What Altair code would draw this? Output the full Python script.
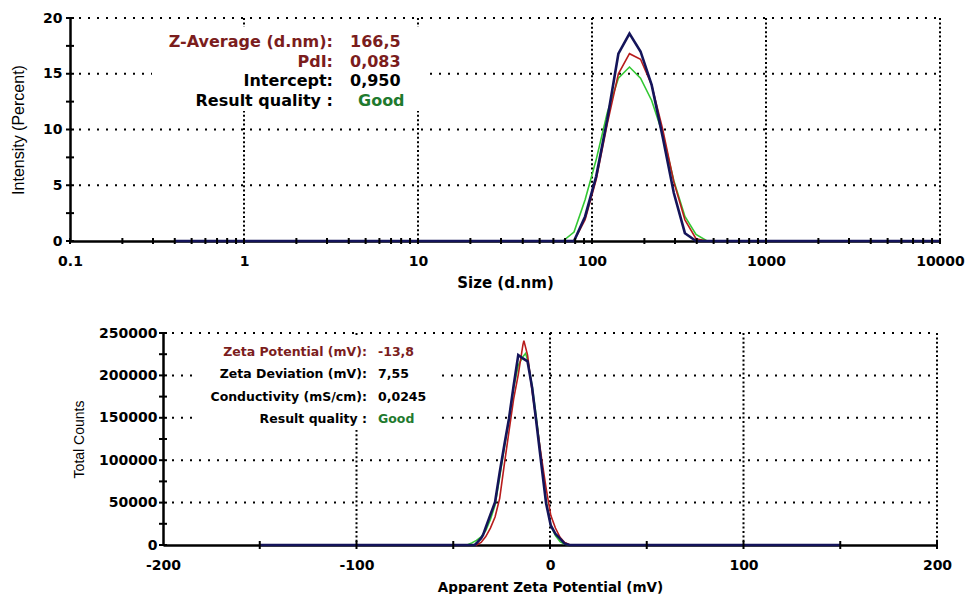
import altair as alt
import pandas as pd

# ---------------- size distribution (intensity) ----------------
size_bins = [0.4, 0.4632, 0.5365, 0.6213, 0.7195, 0.8332, 0.9649, 1.117, 1.294, 1.499,
             1.736, 2.01, 2.328, 2.696, 3.122, 3.615, 4.187, 4.849, 5.615, 6.503,
             7.531, 8.721, 10.1, 11.7, 13.54, 15.69, 18.17, 21.04, 24.36, 28.21,
             32.67, 37.84, 43.82, 50.75, 58.77, 68.06, 78.82, 91.28, 105.7, 122.4,
             141.8, 164.2, 190.1, 220.2, 255.0, 295.3, 342.0, 396.1, 458.7, 531.2,
             615.1, 712.4, 825.0, 955.4, 1106, 1281, 1484, 1718, 1990, 2305,
             2669, 3091, 3580, 4145, 4801, 5560, 6439, 7456, 8635, 10000]

intensity_run1 = [0.0] * 37 + [2.2, 5.8, 10.9, 16.8, 18.6, 17.0, 14.0, 9.3, 4.3, 0.7] + [0.0] * 23
intensity_run2 = [0.0] * 37 + [1.9, 5.5, 10.5, 15.0, 16.8, 16.3, 14.0, 10.0, 5.3, 1.9, 0.2] + [0.0] * 22
intensity_run3 = [0.0] * 36 + [0.8, 3.7, 7.3, 11.5, 14.6, 15.6, 14.6, 12.6, 9.6, 5.4, 2.2, 0.6] + [0.0] * 22

size_ticks = [0.1, 1, 10, 100, 1000, 10000]
size_minor = [m * d for d in [0.1, 1, 10, 100, 1000] for m in range(1, 10)] + [10000]
intensity_ticks = [0, 5, 10, 15, 20]
intensity_minor = [0, 2.5, 5, 7.5, 10, 12.5, 15, 17.5, 20]

size_labels = ["Z-Average (d.nm):", "PdI:", "Intercept:", "Result quality :"]
size_values = ["166,5", "0,083", "0,950", "Good"]

# ---------------- zeta potential distribution ----------------
zeta_run1_mv = [-150, -40.4, -38.9, -38.0, -35.6, -34.6, -33.2, -30.8, -28.4, -26.0, -23.6, -21.2,
                -18.8, -16.4, -14.0, -11.6, -9.2, -6.8, -4.4, -2.0, 0.4, 2.8, 5.2, 7.6, 10.0, 150]
zeta_run1_counts = [0, 0, 0, 2000, 8000, 11800, 20600, 35600, 50600, 85700, 118000, 149000,
                    188000, 224000, 220000, 216500, 185000, 140000, 94000, 49000, 23000, 13200,
                    7400, 1700, 0, 0]

zeta_run2_mv = [-150, -38.0, -35.6, -33.2, -30.8, -28.4, -26.0, -23.6, -21.2, -18.8, -16.4, -14.0,
                -13.5, -11.6, -9.2, -6.8, -4.4, -2.0, 0.4, 2.8, 5.2, 7.6, 10.0, 12.4, 150]
zeta_run2_counts = [0, 0, 3000, 10000, 20000, 33000, 55000, 95000, 134000, 172000, 201000, 236000,
                    241000, 224000, 180600, 142000, 103000, 66700, 35000, 20000, 9000, 3000,
                    500, 0, 0]

zeta_run3_mv = [-150, -42.8, -40.4, -38.0, -35.6, -33.2, -30.8, -28.4, -26.0, -23.6, -21.2, -18.8,
                -16.4, -14.0, -12.6, -11.6, -9.2, -6.8, -4.4, -2.0, 0.4, 2.8, 5.2, 7.6, 10.0, 150]
zeta_run3_counts = [0, 0, 2500, 5500, 9500, 17000, 30000, 47000, 80000, 115000, 148000, 185000,
                    212000, 222000, 226000, 218000, 187000, 146000, 98000, 52000, 23000, 11000,
                    4000, 800, 0, 0]

zeta_ticks = [-200, -100, 0, 100, 200]
zeta_grid = [-100, 0, 100, 200]
zeta_minor = [-150, -100, -50, 0, 50, 100, 150, 200]
counts_ticks = [0, 50000, 100000, 150000, 200000, 250000]
counts_minor = list(range(0, 250001, 25000))

zeta_labels = ["Zeta Potential (mV):", "Zeta Deviation (mV):", "Conductivity (mS/cm):", "Result quality :"]
zeta_values = ["-13,8", "7,55", "0,0245", "Good"]

# ---------------- styling ----------------
NAVY, RED, GREEN = "#14145a", "#b81c1c", "#33c833"
MAROON, OK_GREEN = "#7b1d1d", "#1f7a2e"
label_colors = [MAROON, MAROON, "#000000", "#000000"]
value_colors = [MAROON, MAROON, "#000000", OK_GREEN]
zlabel_colors = [MAROON, "#000000", "#000000", "#000000"]
zvalue_colors = [MAROON, "#000000", "#000000", OK_GREEN]

TICK_FONT = "DejaVu Sans"
W1, H1 = 870, 223
W2, H2 = 870, 212
X2_LEFT, X2_RIGHT = 93, 867


def axis(values, title, label_pad, title_pad, title_font, title_size, title_weight, offset=0):
    return alt.Axis(
        values=values, labelExpr="'' + datum.value", ticks=False, grid=False,
        domainColor="#000000", domainWidth=2.5, labelFont=TICK_FONT, labelFontWeight="bold",
        labelFontSize=14, labelColor="#000000", labelPadding=label_pad, labelFlush=False,
        labelOverlap=False, title=title, titleFont=title_font, titleFontSize=title_size,
        titleFontWeight=title_weight, titleColor="#000000", titlePadding=title_pad, offset=offset)


def values_df(vals):
    return pd.DataFrame({"v": vals})


class Panel:
    """Shared scales and axes for one plot panel."""

    def __init__(self, xscale, yscale, xaxis, yaxis, xtitle, ytitle):
        self.xs, self.ys, self.xa, self.ya = xscale, yscale, xaxis, yaxis
        self.xt, self.yt = xtitle, ytitle

    def X(self, field):
        return alt.X(field, scale=self.xs, axis=self.xa, title=self.xt)

    def Y(self, field):
        return alt.Y(field, scale=self.ys, axis=self.ya, title=self.yt)

    def dotted_h(self, vals, x0, x1):
        return alt.Chart(values_df(vals)).mark_rule(
            color="#000000", strokeWidth=2, strokeDash=[2, 7]
        ).encode(y=self.Y("v:Q"), x=alt.value(x0), x2=alt.value(x1))

    def dotted_v(self, vals, h):
        return alt.Chart(values_df(vals)).mark_rule(
            color="#000000", strokeWidth=2, strokeDash=[2, 2.4]
        ).encode(x=self.X("v:Q"), y=alt.value(0), y2=alt.value(h))

    def ticks_y(self, vals, xpos):
        return alt.Chart(values_df(vals)).mark_rule(color="#000000", strokeWidth=2).encode(
            y=self.Y("v:Q"), x=alt.value(xpos - 4), x2=alt.value(xpos + 4))

    def ticks_x(self, vals, h, half):
        return alt.Chart(values_df(vals)).mark_rule(color="#000000", strokeWidth=2).encode(
            x=self.X("v:Q"), y=alt.value(h - half), y2=alt.value(h + half))

    def line(self, df, xf, yf, color, width):
        return alt.Chart(df).mark_line(color=color, strokeWidth=width, strokeJoin="miter").encode(
            x=self.X(xf), y=self.Y(yf))


def white_box(x0, x1, y0, y1):
    return alt.Chart(pd.DataFrame({"v": [0]})).mark_rect(color="white").encode(
        x=alt.value(x0), x2=alt.value(x1), y=alt.value(y0), y2=alt.value(y1))


def text_rows(labels, values, lcolors, vcolors, xr, xv, y0, dy, size, good_dx=0):
    layers = []
    for i, (lab, val) in enumerate(zip(labels, values)):
        y = y0 + i * dy
        layers.append(alt.Chart(pd.DataFrame({"t": [lab]})).mark_text(
            align="right", baseline="middle", font=TICK_FONT, fontWeight="bold",
            fontSize=size, color=lcolors[i]).encode(text="t:N", x=alt.value(xr), y=alt.value(y)))
        dx = good_dx if val == "Good" else 0
        layers.append(alt.Chart(pd.DataFrame({"t": [val]})).mark_text(
            align="left", baseline="middle", font=TICK_FONT, fontWeight="bold",
            fontSize=size, color=vcolors[i]).encode(text="t:N", x=alt.value(xv + dx), y=alt.value(y)))
    return layers


# ---------------- top panel ----------------
size_df = pd.DataFrame({
    "size": size_bins * 3,
    "intensity": intensity_run1 + intensity_run2 + intensity_run3,
    "run": ["Record 1"] * 70 + ["Record 2"] * 70 + ["Record 3"] * 70,
})

p1 = Panel(
    alt.Scale(type="log", domain=[0.1, 10000]),
    alt.Scale(domain=[0, 20]),
    axis(size_ticks, "Size (d.nm)", 13, 7, TICK_FONT, 15, "bold"),
    axis(intensity_ticks, "Intensity (Percent)", 8, 16, "Liberation Sans", 16, "normal"),
    "Size (d.nm)", "Intensity (Percent)",
)

top = alt.layer(
    p1.dotted_h([5, 10, 15, 20], 0, W1),
    p1.dotted_v([1, 10, 100, 1000, 10000], H1),
    white_box(82, 357, 9, 93),
    p1.line(size_df[size_df.run == "Record 3"], "size:Q", "intensity:Q", GREEN, 1.6),
    p1.line(size_df[size_df.run == "Record 2"], "size:Q", "intensity:Q", RED, 1.6),
    p1.line(size_df[size_df.run == "Record 1"], "size:Q", "intensity:Q", NAVY, 2.6),
    p1.ticks_y(intensity_minor, 0),
    p1.ticks_x(size_minor, H1, 3),
    *text_rows(size_labels, size_values, label_colors, value_colors, 263, 280, 24, 19.7, 16, 8),
).properties(width=W1, height=H1)

# ---------------- bottom panel ----------------
zeta_df = pd.concat([
    pd.DataFrame({"mv": zeta_run1_mv, "counts": zeta_run1_counts, "run": "Record 1"}),
    pd.DataFrame({"mv": zeta_run2_mv, "counts": zeta_run2_counts, "run": "Record 2"}),
    pd.DataFrame({"mv": zeta_run3_mv, "counts": zeta_run3_counts, "run": "Record 3"}),
])

p2 = Panel(
    alt.Scale(domain=[-200, 200], range=[X2_LEFT, X2_RIGHT]),
    alt.Scale(domain=[0, 250000]),
    axis(zeta_ticks, "Apparent Zeta Potential (mV)", 13, 8, TICK_FONT, 13.5, "bold"),
    axis(counts_ticks, "Total Counts", 6, 12, "Liberation Sans", 14, "normal", offset=-X2_LEFT),
    "Apparent Zeta Potential (mV)", "Total Counts",
)

bottom = alt.layer(
    p2.dotted_h([50000, 100000, 150000, 200000, 250000], X2_LEFT, X2_RIGHT),
    p2.dotted_v(zeta_grid, H2),
    white_box(127, 368, 4, 97),
    p2.line(zeta_df[zeta_df.run == "Record 3"], "mv:Q", "counts:Q", GREEN, 1.6),
    p2.line(zeta_df[zeta_df.run == "Record 2"], "mv:Q", "counts:Q", RED, 1.6),
    p2.line(zeta_df[zeta_df.run == "Record 1"], "mv:Q", "counts:Q", NAVY, 2.6),
    p2.ticks_y(counts_minor, X2_LEFT),
    p2.ticks_x(zeta_minor, H2, 4),
    *text_rows(zeta_labels, zeta_values, zlabel_colors, zvalue_colors, 297, 308, 19, 22.4, 12.5),
).properties(width=W2, height=H2)

chart = alt.vconcat(top, bottom, spacing=92, bounds="flush").properties(
    padding={"left": 10, "top": 11, "right": 0, "bottom": 0},
    background="white",
).configure_view(stroke=None)

chart.save("out.html", embed_options={"renderer": "svg", "actions": False})
